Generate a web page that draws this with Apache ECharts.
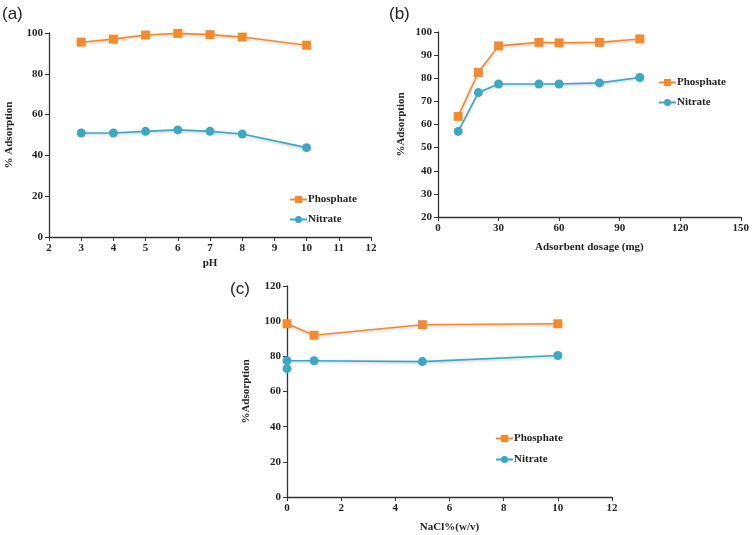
<!DOCTYPE html>
<html lang="en">
<head>
    <meta charset="UTF-8">
    <title>Adsorption panels</title>
    <script src="https://cdn.jsdelivr.net/npm/echarts/dist/echarts.min.js"></script>
    <style>
        html, body { margin: 0; padding: 0; background: #fff; }
        #main { width: 752px; height: 535px; }
    </style>
</head>
<body>
    <div id="main"></div>

    <script>
        var myChart = echarts.init(document.getElementById('main'));

        // (a) effect of pH
        var phX = [3, 4, 5, 6, 7, 8, 10];
        var phPhosphate = [95.5, 97, 99, 99.8, 99.2, 98, 94];
        var phNitrate = [51, 51, 51.8, 52.5, 51.8, 50.5, 43.8];

        // (b) adsorbent dosage
        var doseX = [10, 20, 30, 50, 60, 80, 100];
        var dosePhosphate = [63.5, 82.5, 94, 95.5, 95.3, 95.5, 97];
        var doseNitrate = [57, 73.8, 77.5, 77.5, 77.5, 78, 80.3];

        // (c) NaCl %
        var naclPhosX = [0, 1, 5, 10];
        var naclPhosphate = [98.5, 92, 98, 98.5];
        var naclNitX = [0, 0, 1, 5, 10];
        var naclNitrate = [73, 77.5, 77.5, 77, 80.5];

        var orange = '#F38B2E';
        var blue = '#3DA8C4';
        var serif = '"Liberation Serif", "Times New Roman", serif';

        function pairs(xs, ys) {
            return xs.map(function (x, i) { return [x, ys[i]]; });
        }

        function xAxis(idx, min, max, step, title, gap) {
            return {
                gridIndex: idx, type: 'value', min: min, max: max, interval: step,
                name: title, nameLocation: 'middle', nameGap: gap,
                nameTextStyle: { fontFamily: serif, fontWeight: 'bold', fontSize: 11, color: '#222' },
                axisLine: { lineStyle: { color: '#333', width: 1.3 } },
                axisTick: { show: true, length: 4, lineStyle: { color: '#333' } },
                axisLabel: { fontFamily: serif, fontWeight: 'bold', fontSize: 11, color: '#222', margin: 6 },
                splitLine: { show: false }
            };
        }

        function yAxis(idx, min, max, step, title, gap) {
            return {
                gridIndex: idx, type: 'value', min: min, max: max, interval: step,
                name: title, nameLocation: 'middle', nameGap: gap, nameRotate: 90,
                nameTextStyle: { fontFamily: serif, fontWeight: 'bold', fontSize: 11, color: '#222' },
                axisLine: { show: true, lineStyle: { color: '#333', width: 1.3 } },
                axisTick: { show: true, length: 4, lineStyle: { color: '#333' } },
                axisLabel: { fontFamily: serif, fontWeight: 'bold', fontSize: 11, color: '#222', margin: 6 },
                splitLine: { show: false }
            };
        }

        function series(name, idx, data, color, symbol) {
            return {
                name: name, type: 'line', xAxisIndex: idx, yAxisIndex: idx,
                data: data, symbol: symbol, symbolSize: 9,
                lineStyle: { color: color, width: 1.6, shadowColor: 'rgba(0,0,0,0.25)', shadowBlur: 3, shadowOffsetY: 1 },
                itemStyle: { color: color },
                emphasis: { disabled: true }
            };
        }

        function legend(left, top, gap) {
            return {
                left: left, top: top, orient: 'vertical', itemGap: gap,
                itemWidth: 17, itemHeight: 9,
                data: ['Phosphate', 'Nitrate'],
                textStyle: { fontFamily: serif, fontWeight: 'bold', fontSize: 11, color: '#222', padding: [0, 0, 0, -4] }
            };
        }

        var option = {
            animation: false,
            grid: [
                { left: 49, top: 33, width: 322, height: 204 },
                { left: 438, top: 32, width: 305, height: 185 },
                { left: 287, top: 286, width: 325, height: 211 }
            ],
            xAxis: [
                xAxis(0, 2, 12, 1, 'pH', 21),
                xAxis(1, 0, 150, 30, 'Adsorbent dosage (mg)', 25),
                xAxis(2, 0, 12, 2, 'NaCl%(w/v)', 25)
            ],
            yAxis: [
                yAxis(0, 0, 100, 20, '% Adsorption', 34),
                yAxis(1, 20, 100, 10, '%Adsorption', 31),
                yAxis(2, 0, 120, 20, '%Adsorption', 35)
            ],
            legend: [
                legend(284, 189, 9),
                legend(653, 72, 9),
                legend(490, 428, 10)
            ],
            series: [
                series('Phosphate', 0, pairs(phX, phPhosphate), orange, 'rect'),
                series('Nitrate', 0, pairs(phX, phNitrate), blue, 'circle'),
                series('Phosphate', 1, pairs(doseX, dosePhosphate), orange, 'rect'),
                series('Nitrate', 1, pairs(doseX, doseNitrate), blue, 'circle'),
                series('Phosphate', 2, pairs(naclPhosX, naclPhosphate), orange, 'rect'),
                series('Nitrate', 2, pairs(naclNitX, naclNitrate), blue, 'circle')
            ],
            graphic: [
                { type: 'text', left: 2, top: 6, style: { text: '(a)', fontFamily: 'Liberation Sans, Arial, sans-serif', fontSize: 17, fill: '#222' } },
                { type: 'text', left: 389, top: 6, style: { text: '(b)', fontFamily: 'Liberation Sans, Arial, sans-serif', fontSize: 17, fill: '#222' } },
                { type: 'text', left: 230, top: 281, style: { text: '(c)', fontFamily: 'Liberation Sans, Arial, sans-serif', fontSize: 17, fill: '#222' } }
            ]
        };

        myChart.setOption(option);
    </script>
</body>
</html>
